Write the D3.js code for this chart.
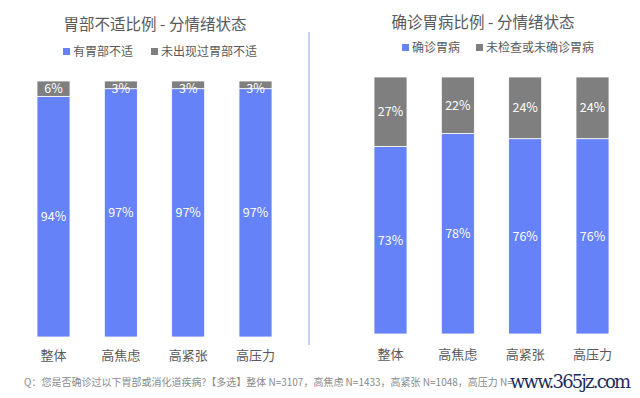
<!DOCTYPE html>
<html><head><meta charset="utf-8">
<script src="https://cdn.jsdelivr.net/npm/d3@7"></script>
<style>body{margin:0;background:#fff}svg{display:block;font-family:"Noto Sans CJK SC","Noto Sans",sans-serif}</style>
</head><body><svg id="c" width="640" height="398"></svg>
<script>
const categories = ["整体","高焦虑","高紧张","高压力"];
const leftTitle = "胃部不适比例 - 分情绪状态";
const leftSeriesNames = ["有胃部不适","未出现过胃部不适"];
const leftYes = [94,97,97,97];
const leftNo = [6,3,3,3];
const rightTitle = "确诊胃病比例 - 分情绪状态";
const rightSeriesNames = ["确诊胃病","未检查或未确诊胃病"];
const rightYes = [73,78,76,76];
const rightNo = [27,22,24,24];
const footnote = "Q：您是否确诊过以下胃部或消化道疾病?【多选】整体 N=3107，高焦虑 N=1433，高紧张 N=1048，高压力 N=";
const watermark = "www.365jz.com";

const BLUE = "#6582f8", GRAY = "#7f7f7f", TXT = "#595959";
const svg = d3.select("#c");

function panel(o){
  const g = svg.append("g");
  const x = d3.scaleBand().domain(categories).range([o.x0,o.x1]).paddingInner(0.51).paddingOuter(0);
  const y = d3.scaleLinear().domain([0,100]).range([o.yb,o.yt]);
  const stackData = categories.map((c,i)=>({c, a:o.yes[i], b:o.no[i]}));
  const series = d3.stack().keys(["a","b"])(stackData);
  const colors = [BLUE, GRAY];
  series.forEach((s,si)=>{
    g.selectAll(null).data(s).join("rect")
      .attr("x",d=>x(d.data.c)).attr("width",x.bandwidth())
      .attr("y",d=>y(d[1])).attr("height",d=>y(d[0])-y(d[1]))
      .attr("fill",colors[si]).attr("stroke","#fff").attr("stroke-width",0.8);
    g.selectAll(null).data(s).join("text")
      .attr("x",d=>x(d.data.c)+x.bandwidth()/2)
      .attr("y",d=>{const h=y(d[0])-y(d[1]); return (h<16? y(d[1])+7 : (y(d[0])+y(d[1]))/2)+4.5;})
      .attr("text-anchor","middle").attr("fill","#fff").attr("font-size",12.5).attr("font-weight",400)
      .text(d=>(d[1]-d[0])+"%");
  });
  const ax = d3.axisBottom(x).tickSize(0).tickPadding(0);
  const axg = g.append("g").attr("transform",`translate(0,${o.labY})`).call(ax);
  axg.select(".domain").remove();
  axg.selectAll("text").attr("fill",TXT).attr("font-size",13).attr("dy",0)
    .style("font-family",'"Noto Sans CJK SC",sans-serif').style("font-weight",400);
  g.append("text").attr("x",o.tx).attr("y",o.ty).attr("text-anchor","middle")
    .attr("fill",TXT).attr("font-size",15.5).attr("font-weight",400).text(o.title);
  o.names.forEach((n,i)=>{
    g.append("rect").attr("x",o.lx[i]).attr("y",o.ly-4).attr("width",7).attr("height",7).attr("fill",colors[i]);
    g.append("text").attr("x",o.lx[i]+10).attr("y",o.ly+4).attr("fill",TXT).attr("font-size",12).text(n);
  });
}
panel({x0:37,x1:272,yb:337,yt:81,yes:leftYes,no:leftNo,labY:360,title:leftTitle,tx:155,ty:30,
  names:leftSeriesNames,lx:[63,151],ly:52});
panel({x0:374,x1:609,yb:334,yt:77,yes:rightYes,no:rightNo,labY:359,title:rightTitle,tx:483,ty:28,
  names:rightSeriesNames,lx:[402,476],ly:48});

svg.append("line").attr("x1",309).attr("x2",309).attr("y1",32).attr("y2",345)
  .attr("stroke","#9fb0ea").attr("stroke-width",1.2);

svg.append("text").attr("x",24).attr("y",386).attr("fill","#8a8a8a").attr("font-size",10).text(footnote);
svg.append("text").attr("x",510).attr("y",388).attr("fill","#1c2b5e").attr("font-size",18)
  .style("font-family",'"DejaVu Serif","Liberation Serif",serif').attr("textLength",121).text(watermark);
</script></body></html>
